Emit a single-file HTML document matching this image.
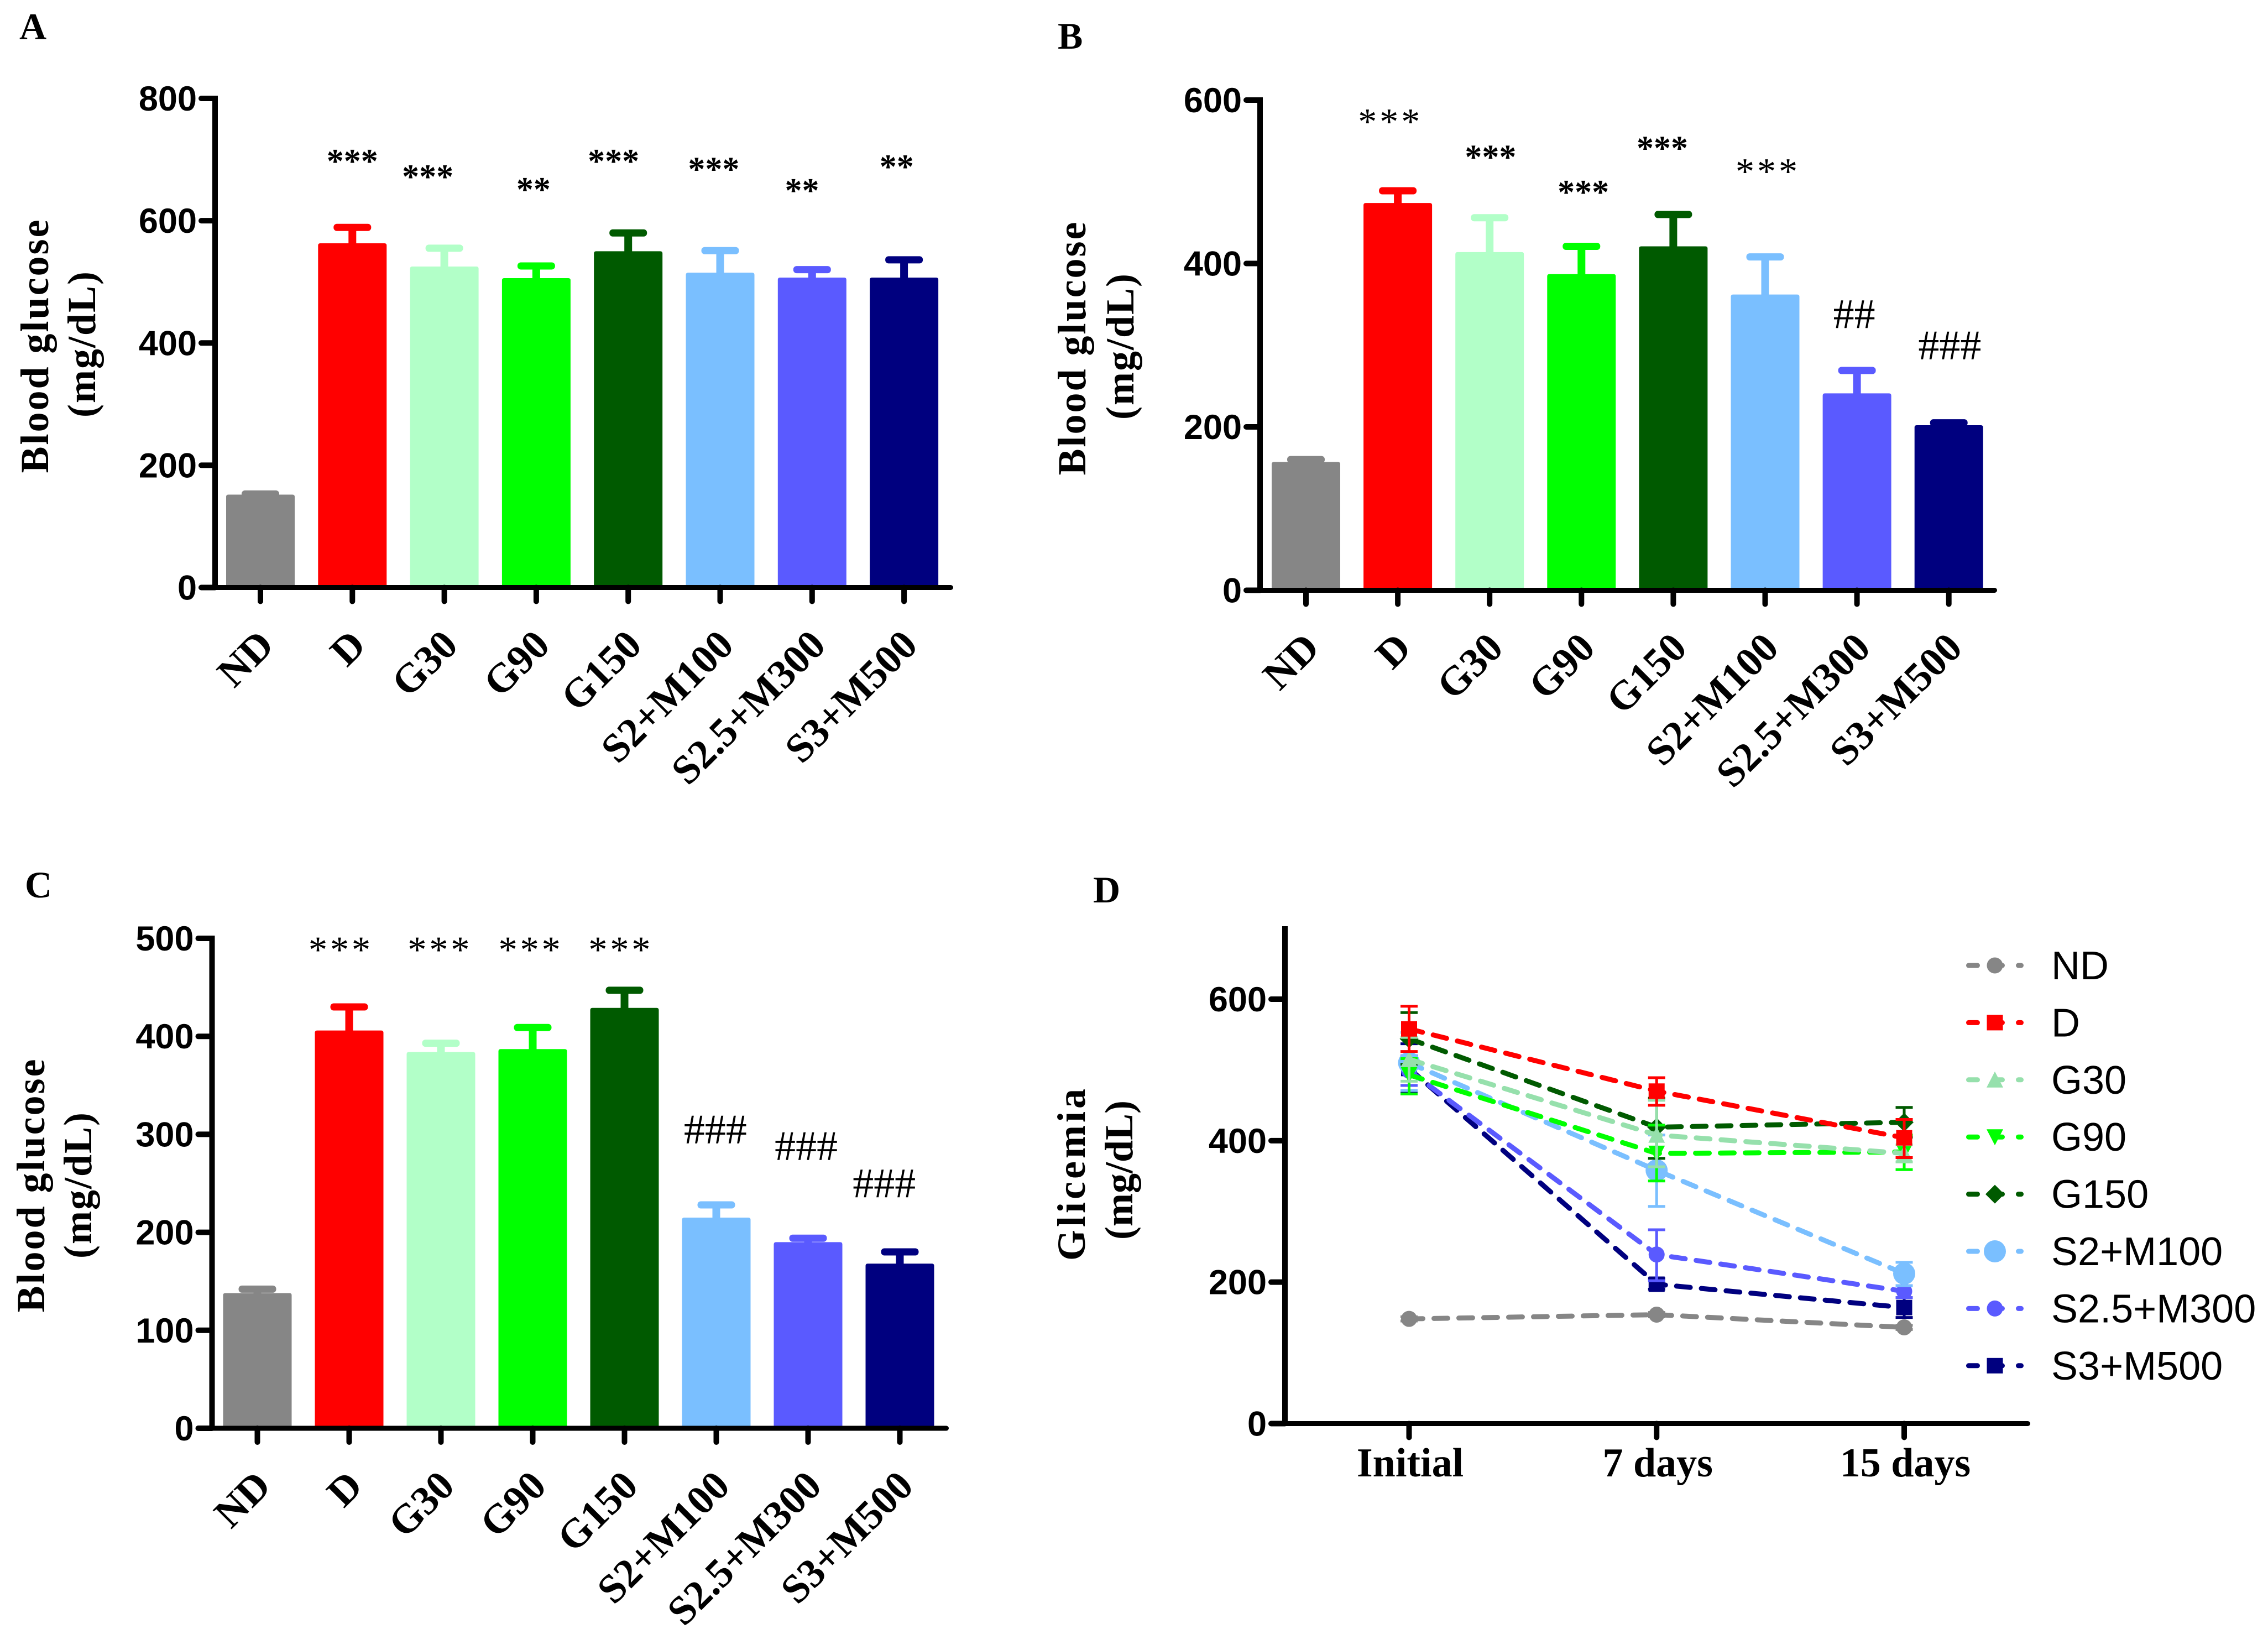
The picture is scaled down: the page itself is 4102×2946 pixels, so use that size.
<!DOCTYPE html>
<html lang="en">
<head>
<meta charset="utf-8">
<title>Blood glucose panels</title>
<style>
html,body{margin:0;padding:0;background:#fff;}
svg{display:block;}
.serif{font-family:"Liberation Serif",serif;}
.sans{font-family:"Liberation Sans",sans-serif;}
</style>
</head>
<body>
<svg id="figure" xmlns="http://www.w3.org/2000/svg" width="4102" height="2946" viewBox="0 0 4102 2946">
<rect x="0" y="0" width="4102" height="2946" fill="#ffffff"/>
</svg>
<script>
const categories = ['ND','D','G30','G90','G150','S2+M100','S2.5+M300','S3+M500'];
const barColors = ['#868686','#ff0000','#b2ffc8','#00ff00','#005a00','#7abfff','#5a5aff','#00007f'];
const lineColors = ['#868686','#ff0000','#96e0ac','#00ff00','#005a00','#7abfff','#5a5aff','#00007f'];
const markerTypes = ['circle','square','up','down','diamond','bigcircle','circle','square'];

const ticksA = [0,200,400,600,800];
const valuesA = [152,563,525,506,550,515,507,507];
const capsA = [153,589,555,526,580,551,520,536];
const sigLabelsA = ['***','***','**','***','***','**','**'];
const sigThinA = [0,0,0,0,0,0,0];
const sigXA = [1,1.82,2.97,3.84,4.93,5.89,6.92];
const sigYA = [705,680,659,705,692,657,696];

const ticksB = [0,200,400,600];
const valuesB = [157,474,414,387,421,362,241,202];
const capsB = [160,489,456,421,460,408,269,205];
const sigLabelsB = ['***','***','***','***','***','##','###'];
const sigThinB = [1,0,0,0,1,0,0];
const sigXB = [0.92,2.01,3.02,3.88,5.03,5.97,7.01];
const sigYB = [578,536,493,547,517,338,300];

const ticksC = [0,100,200,300,400,500];
const valuesC = [138,406,384,387,429,215,190,168];
const capsC = [142,430,393,409,447,228,194,180];
const sigLabelsC = ['***','***','***','***','###','###','###'];
const sigThinC = [1,1,1,1,0,0,0];
const sigXC = [0.91,1.99,2.98,3.96,4.99,5.98,6.83];
const sigYC = [492,492,492,492,305,288,250];

const ticksD = [0,200,400,600];
const timeLabels = ['Initial','7 days','15 days'];
const glicND = [148,154,136];
const glicD = [558,470,404];
const glicG30 = [515,408,382];
const glicG90 = [493,382,384];
const glicG150 = [544,419,426];
const glicS2 = [510,358,212];
const glicS25 = [499,239,187];
const glicS3 = [502,197,164];
const upperND = [151,157,139];
const lowerND = [145,151,133];
const upperD = [590,489,430];
const lowerD = [526,450,376];
const upperG30 = [546,457,394];
const lowerG30 = [484,363,370];
const upperG90 = [516,422,408];
const lowerG90 = [466,343,359];
const upperG150 = [581,460,447];
const lowerG150 = [508,375,405];
const upperS2 = [553,408,228];
const lowerS2 = [471,307,195];
const upperS25 = [520,274,195];
const lowerS25 = [478,202,178];
const upperS3 = [537,205,178];
const lowerS3 = [467,190,150];
const seriesValues = [glicND,glicD,glicG30,glicG90,glicG150,glicS2,glicS25,glicS3];
const seriesUpper = [upperND,upperD,upperG30,upperG90,upperG150,upperS2,upperS25,upperS3];
const seriesLower = [lowerND,lowerD,lowerG30,lowerG90,lowerG150,lowerS2,lowerS25,lowerS3];

const NS = 'http://www.w3.org/2000/svg';
const figure = document.getElementById('figure');

function make(parent, tag, attrs, text) {
  const el = document.createElementNS(NS, tag);
  for (const k in attrs) el.setAttribute(k, attrs[k]);
  if (text !== undefined) el.textContent = text;
  parent.appendChild(el);
  return el;
}

function hLine(parent, x1, x2, y, w, color, cap) {
  return make(parent, 'line', {x1:x1, x2:x2, y1:y, y2:y, stroke:color, 'stroke-width':w, 'stroke-linecap':cap});
}
function vLine(parent, x, y1, y2, w, color, cap) {
  return make(parent, 'line', {x1:x, x2:x, y1:y1, y2:y2, stroke:color, 'stroke-width':w, 'stroke-linecap':cap});
}

function yAxisTitle(parent, baseX, centerY, text, name, spacing) {
  const el = make(parent, 'text', {
    class:'serif', x:0, y:0, 'font-size':72, 'font-weight':'bold', 'text-anchor':'middle',
    'letter-spacing':spacing,
    transform:'translate(' + baseX + ',' + centerY + ') rotate(-90)'
  }, text);
  
  
  return el;
}

function panelLetter(parent, x, y, text) {
  const el = make(parent, 'text', {class:'serif', x:x, y:y, 'font-size':68, 'font-weight':'bold'}, text);
  
  
}

function drawYAxis(g, cfg, ticks, yScale) {
  const axis = vLine(g, cfg.axisX, yScale(ticks[ticks.length-1]) - 5 - (cfg.extraTop||0), cfg.y0, 10, '#000', 'butt');
  
  
  ticks.forEach(function (t) {
    const tick = hLine(g, cfg.axisX, cfg.axisX - 25, yScale(t), 10, '#000', 'round');
    
    
    const lab = make(g, 'text', {class:'sans', x:cfg.axisX - 33, y:yScale(t) + 22, 'font-size':63, 'font-weight':'bold', 'text-anchor':'end'}, String(t));
    
    
  });
  const xa = hLine(g, cfg.axisX - 25, cfg.right - 4.5, cfg.y0, 9, '#000', 'round');
  
  
}

function drawBarPanel(cfg, ticks, values, caps, sigLabels, sigThin, sigX, sigY) {
  const g = make(figure, 'g', {});
  
  
  const xScale = function (i) { return cfg.x0 + cfg.step * i; };
  const top = ticks[ticks.length-1];
  const yScale = function (v) { return cfg.y0 - v * (cfg.y0 - cfg.yTop) / top; };

  categories.forEach(function (cat, i) {
    const cx = xScale(i);
    const stem = vLine(g, cx, yScale(caps[i]), yScale(values[i]) + 4, 14, barColors[i], 'butt');
    
    
    const cap = make(g, 'rect', {x:cx - 34, y:yScale(caps[i]) - 6.5, width:68, height:13, rx:6, fill:barColors[i]});
    
    
    const bar = make(g, 'path', {
      d:'M' + (cx-62) + ' ' + cfg.y0 + 'V' + (yScale(values[i]) + 4) + 'Q' + (cx-62) + ' ' + yScale(values[i]) + ' ' + (cx-58) + ' ' + yScale(values[i]) +
        'H' + (cx+58) + 'Q' + (cx+62) + ' ' + yScale(values[i]) + ' ' + (cx+62) + ' ' + (yScale(values[i]) + 4) + 'V' + cfg.y0 + 'Z',
      fill:barColors[i]
    });
    
    
    const tick = vLine(g, cx, cfg.y0, cfg.y0 + 25, 10, '#000', 'round');
    
    
    const lab = make(g, 'text', {
      class:'serif', x:0, y:0, 'font-size':74, 'font-weight':'bold', 'text-anchor':'end',
      transform:'translate(' + (cx + 28) + ',' + (cfg.y0 + 108) + ') rotate(-45)'
    }, cat);
    
    
  });

  drawYAxis(g, cfg, ticks, yScale);

  sigLabels.forEach(function (s, i) {
    const isHash = s.charAt(0) === '#';
    const thin = sigThin[i] === 1;
    const fs = isHash ? 76 : (thin ? 68 : 62);
    const attrs = {
      class:'serif', x:xScale(sigX[i]), y:yScale(sigY[i]) + (isHash ? 0.33 : 0.47) * fs - (thin ? 3 : 0),
      'font-size':fs, 'font-weight':(isHash || thin) ? 'normal' : 'bold', 'text-anchor':'middle'
    };
    if (thin) attrs['letter-spacing'] = 5;
    const t = make(g, 'text', attrs, s);
    
    
  });

  yAxisTitle(g, cfg.title1X, cfg.title1Y, 'Blood glucose', 'y-axis-title', 3);
  yAxisTitle(g, cfg.title2X, cfg.title2Y, '(mg/dL)', 'y-axis-unit', 2);
}

function drawMarker(parent, type, cx, cy, color) {
  let el;
  if (type === 'square') {
    el = make(parent, 'rect', {x:cx - 14.5, y:cy - 14, width:29, height:28, fill:color});
  } else if (type === 'circle') {
    el = make(parent, 'circle', {cx:cx, cy:cy, r:14.5, fill:color});
  } else if (type === 'bigcircle') {
    el = make(parent, 'circle', {cx:cx, cy:cy, r:20, fill:color});
  } else if (type === 'up') {
    el = make(parent, 'polygon', {points:(cx) + ',' + (cy-15) + ' ' + (cx+15) + ',' + (cy+14) + ' ' + (cx-15) + ',' + (cy+14), fill:color});
  } else if (type === 'down') {
    el = make(parent, 'polygon', {points:(cx-15) + ',' + (cy-14) + ' ' + (cx+15) + ',' + (cy-14) + ' ' + (cx) + ',' + (cy+15), fill:color});
  } else {
    el = make(parent, 'polygon', {points:(cx) + ',' + (cy-17) + ' ' + (cx+17) + ',' + (cy) + ' ' + (cx) + ',' + (cy+17) + ' ' + (cx-17) + ',' + (cy), fill:color});
  }
  return el;
}

function drawLinePanel() {
  const cfg = {axisX:2324, y0:2574.5, yTop:1807, right:3672, x0:2548.5, step:447.75, extraTop:127};
  const g = make(figure, 'g', {});
  
  
  const xScale = function (i) { return cfg.x0 + cfg.step * i; };
  const yScale = function (v) { return cfg.y0 - v * (cfg.y0 - cfg.yTop) / 600; };

  drawYAxis(g, cfg, ticksD, yScale);

  timeLabels.forEach(function (lab, i) {
    const tick = vLine(g, xScale(i), cfg.y0, cfg.y0 + 25, 10, '#000', 'round');
    
    
    const t = make(g, 'text', {class:'serif', x:xScale(i) + 2, y:2670, 'font-size':74, 'font-weight':'bold', 'text-anchor':'middle'}, lab);
    
    
  });

  for (let s = categories.length - 1; s >= 0; s--) {
    const color = lineColors[s];
    const sg = make(g, 'g', {});
    
    
    seriesValues[s].forEach(function (v, i) {
      const x = xScale(i);
      const stem = vLine(sg, x, yScale(seriesUpper[s][i]), yScale(seriesLower[s][i]), 5, color, 'butt');
      
      
      const c1 = hLine(sg, x - 15.5, x + 15.5, yScale(seriesUpper[s][i]), 5, color, 'butt');
      
      
      const c2 = hLine(sg, x - 15.5, x + 15.5, yScale(seriesLower[s][i]), 5, color, 'butt');
      
      
    });
    const pts = seriesValues[s].map(function (v, i) { return xScale(i) + ',' + yScale(v); }).join(' ');
    const line = make(sg, 'polyline', {points:pts, fill:'none', stroke:color, 'stroke-width':9, 'stroke-dasharray':'25 20', 'stroke-linecap':'round'});
    
    
    seriesValues[s].forEach(function (v, i) {
      const m = drawMarker(sg, markerTypes[s], xScale(i), yScale(v), color);
      
      
    });
  }

  categories.forEach(function (cat, i) {
    const ly = 1746 + 103.4 * i;
    const lg = make(g, 'g', {});
    
    
    const sw = make(lg, 'line', {x1:3560.5, x2:3655.5, y1:ly, y2:ly, stroke:lineColors[i], 'stroke-width':9, 'stroke-dasharray':'16 29', 'stroke-linecap':'round'});
    
    
    const mk = drawMarker(lg, markerTypes[i], 3608, ly, lineColors[i]);
    
    
    const t = make(lg, 'text', {class:'sans', x:3710, y:ly + 25, 'font-size':72}, cat);
    
    
  });

  yAxisTitle(g, 1962, 2122, 'Glicemia', 'y-axis-title', 5);
  yAxisTitle(g, 2048, 2116, '(mg/dL)', 'y-axis-unit', 0);
}

drawBarPanel({id:'a', x0:471, step:166.3, axisX:389, y0:1062.5, yTop:178, right:1724, title1X:87, title1Y:625, title2X:172, title2Y:622},
  ticksA, valuesA, capsA, sigLabelsA, sigThinA, sigXA, sigYA);
drawBarPanel({id:'b', x0:2362, step:166.1, axisX:2279, y0:1067.5, yTop:181, right:3612, title1X:1963, title1Y:629, title2X:2050, title2Y:626},
  ticksB, valuesB, capsB, sigLabelsB, sigThinB, sigXB, sigYB);
drawBarPanel({id:'c', x0:465.5, step:166, axisX:383.5, y0:2583, yTop:1697, right:1716, title1X:80, title1Y:2143, title2X:165, title2Y:2143},
  ticksC, valuesC, capsC, sigLabelsC, sigThinC, sigXC, sigYC);
drawLinePanel();

panelLetter(figure, 35, 71, 'A');
panelLetter(figure, 1913, 88, 'B');
panelLetter(figure, 45, 1623, 'C');
panelLetter(figure, 1977, 1632, 'D');
</script>
</body>
</html>
